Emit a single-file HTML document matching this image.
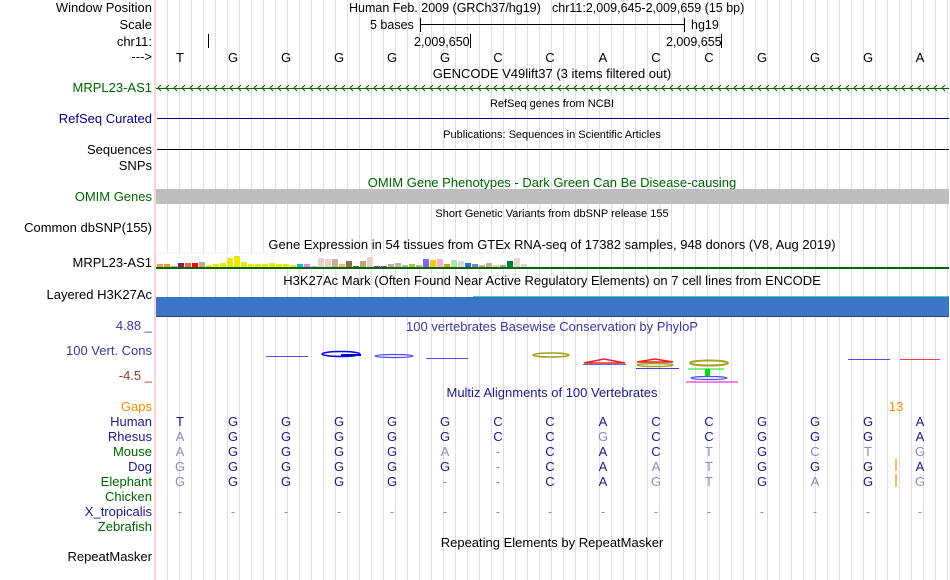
<!DOCTYPE html>
<html><head><meta charset="utf-8"><style>
html,body{margin:0;padding:0;background:#fff;}
svg{display:block;font-family:"Liberation Sans",Arial,sans-serif;}
</style></head><body>
<svg width="950" height="580" viewBox="0 0 950 580" xmlns="http://www.w3.org/2000/svg">
<defs>
<pattern id="chev" x="156" y="84" width="8" height="8" patternUnits="userSpaceOnUse">
<polyline points="5,1 2,4 5,7" fill="none" stroke="#006400" stroke-width="1"/>
</pattern>
</defs>
<rect width="950" height="580" fill="#fff"/>
<g stroke="#dcdcf6" stroke-width="1">
<path d="M167.5 0V580M179.5 0V580M191.5 0V580M203.5 0V580M215.5 0V580M227.5 0V580M239.5 0V580M251.5 0V580M263.5 0V580M275.5 0V580M287.5 0V580M299.5 0V580M311.5 0V580M323.5 0V580M335.5 0V580M347.5 0V580M359.5 0V580M371.5 0V580M383.5 0V580M395.5 0V580M407.5 0V580M419.5 0V580M431.5 0V580M443.5 0V580M455.5 0V580M467.5 0V580M479.5 0V580M491.5 0V580M503.5 0V580M515.5 0V580M527.5 0V580M539.5 0V580M551.5 0V580M563.5 0V580M575.5 0V580M587.5 0V580M599.5 0V580M611.5 0V580M623.5 0V580M635.5 0V580M647.5 0V580M659.5 0V580M671.5 0V580M683.5 0V580M695.5 0V580M707.5 0V580M719.5 0V580M731.5 0V580M743.5 0V580M755.5 0V580M767.5 0V580M779.5 0V580M791.5 0V580M803.5 0V580M815.5 0V580M827.5 0V580M839.5 0V580M851.5 0V580M863.5 0V580M875.5 0V580M887.5 0V580M899.5 0V580M911.5 0V580M923.5 0V580M935.5 0V580M947.5 0V580"/>
</g>
<line x1="155" y1="0" x2="155" y2="580" stroke="#ffaaaa" stroke-width="1"/>

<g font-size="13" text-anchor="end">
<text x="152" y="12" fill="#000">Window Position</text>
<text x="152" y="29" fill="#000">Scale</text>
<text x="152" y="46" fill="#000">chr11:</text>
<text x="152" y="61" fill="#000">---&gt;</text>
<text x="152" y="92" fill="#006400">MRPL23-AS1</text>
<text x="152" y="123" fill="#000080">RefSeq Curated</text>
<text x="152" y="154" fill="#000">Sequences</text>
<text x="152" y="170" fill="#000">SNPs</text>
<text x="152" y="201" fill="#006400">OMIM Genes</text>
<text x="152" y="232" fill="#000">Common dbSNP(155)</text>
<text x="152" y="267" fill="#000">MRPL23-AS1</text>
<text x="152" y="299" fill="#000">Layered H3K27Ac</text>
<text x="152" y="330" fill="#3a3a98">4.88 _</text>
<text x="152" y="355" fill="#3a3a98">100 Vert. Cons</text>
<text x="152" y="380" fill="#8b3a2a">-4.5 _</text>
<text x="152" y="411" fill="#f08c00">Gaps</text>
<text x="152" y="426" fill="#1a1a80">Human</text>
<text x="152" y="441" fill="#1a1a80">Rhesus</text>
<text x="152" y="456" fill="#006400">Mouse</text>
<text x="152" y="471" fill="#1a1a80">Dog</text>
<text x="152" y="486" fill="#006400">Elephant</text>
<text x="152" y="501" fill="#006400">Chicken</text>
<text x="152" y="516" fill="#1a1a80">X_tropicalis</text>
<text x="152" y="531" fill="#006400">Zebrafish</text>
<text x="152" y="561" fill="#000">RepeatMasker</text>
</g>

<g font-size="12.5" fill="#000">
<text x="349" y="12">Human Feb. 2009 (GRCh37/hg19)</text>
<text x="552" y="12">chr11:2,009,645-2,009,659 (15 bp)</text>
<text x="370" y="29">5 bases</text>
<text x="691" y="29">hg19</text>
<text x="414" y="46">2,009,650</text>
<text x="666" y="46">2,009,655</text>
</g>
<g stroke="#000" stroke-width="1">
<line x1="420.5" y1="18" x2="420.5" y2="32"/>
<line x1="420" y1="24.5" x2="684" y2="24.5"/>
<line x1="684.5" y1="18" x2="684.5" y2="32"/>
<line x1="208.5" y1="34" x2="208.5" y2="48"/>
<line x1="470.5" y1="34" x2="470.5" y2="48"/>
<line x1="721.5" y1="34" x2="721.5" y2="48"/>
</g>
<g font-size="13" fill="#000" text-anchor="middle">
<text x="180" y="62">T</text><text x="233" y="62">G</text><text x="286" y="62">G</text><text x="339" y="62">G</text><text x="392" y="62">G</text><text x="445" y="62">G</text><text x="498" y="62">C</text><text x="550" y="62">C</text><text x="603" y="62">A</text><text x="656" y="62">C</text><text x="709" y="62">C</text><text x="762" y="62">G</text><text x="815" y="62">G</text><text x="868" y="62">G</text><text x="920" y="62">A</text>
</g>

<g font-size="13" text-anchor="middle">
<text x="552" y="78" fill="#000">GENCODE V49lift37 (3 items filtered out)</text>
<text x="552" y="187" fill="#006400">OMIM Gene Phenotypes - Dark Green Can Be Disease-causing</text>
<text x="552" y="249" fill="#000">Gene Expression in 54 tissues from GTEx RNA-seq of 17382 samples, 948 donors (V8, Aug 2019)</text>
<text x="552" y="285" fill="#000">H3K27Ac Mark (Often Found Near Active Regulatory Elements) on 7 cell lines from ENCODE</text>
<text x="552" y="331" fill="#3a3a98">100 vertebrates Basewise Conservation by PhyloP</text>
<text x="552" y="397" fill="#1a1a80">Multiz Alignments of 100 Vertebrates</text>
<text x="552" y="547" fill="#000">Repeating Elements by RepeatMasker</text>
</g>
<g font-size="11" text-anchor="middle" fill="#000">
<text x="552" y="107">RefSeq genes from NCBI</text>
<text x="552" y="138">Publications: Sequences in Scientific Articles</text>
<text x="552" y="217">Short Genetic Variants from dbSNP release 155</text>
</g>

<line x1="156" y1="88.5" x2="949" y2="88.5" stroke="#006400"/>
<rect x="156" y="84" width="793" height="9" fill="url(#chev)"/>
<line x1="157" y1="118.5" x2="949" y2="118.5" stroke="#000080"/>
<line x1="157" y1="149.5" x2="949" y2="149.5" stroke="#000"/>
<rect x="156" y="189" width="793" height="15" fill="#bebebe"/>

<rect x="156" y="253" width="379" height="14" fill="#fff" stroke="#e4e4e4" stroke-width="0.5"/>
<g>
<rect x="157" y="264" width="6" height="3" fill="#f5a050"/>
<rect x="164" y="264" width="6" height="3" fill="#f09a20"/>
<rect x="171" y="266" width="6" height="1" fill="#88bb88"/>
<rect x="178" y="263" width="6" height="4" fill="#8b1a5a"/>
<rect x="185" y="263" width="6" height="4" fill="#f06040"/>
<rect x="192" y="263" width="6" height="4" fill="#ff0000"/>
<rect x="199" y="262" width="6" height="5" fill="#c8a890"/>
<rect x="206" y="265" width="6" height="2" fill="#e8e800"/>
<rect x="213" y="264" width="6" height="3" fill="#e8e800"/>
<rect x="220" y="263" width="6" height="4" fill="#e8e800"/>
<rect x="227" y="258" width="6" height="9" fill="#e8e800"/>
<rect x="234" y="256" width="6" height="11" fill="#e8e800"/>
<rect x="241" y="262" width="6" height="5" fill="#e8e800"/>
<rect x="248" y="264" width="6" height="3" fill="#e8e800"/>
<rect x="255" y="264" width="6" height="3" fill="#e8e800"/>
<rect x="262" y="264" width="6" height="3" fill="#e8e800"/>
<rect x="269" y="263" width="6" height="4" fill="#e8e800"/>
<rect x="276" y="264" width="6" height="3" fill="#e8e800"/>
<rect x="283" y="264" width="6" height="3" fill="#e8e800"/>
<rect x="290" y="265" width="6" height="2" fill="#e8e800"/>
<rect x="297" y="264" width="6" height="3" fill="#00c8c8"/>
<rect x="304" y="264" width="6" height="3" fill="#ee82ee"/>
<rect x="311" y="266" width="6" height="1" fill="#a0c0d0"/>
<rect x="318" y="258" width="6" height="9" fill="#ecd0cc"/>
<rect x="325" y="259" width="6" height="8" fill="#ecd0cc"/>
<rect x="332" y="259" width="6" height="8" fill="#c8b098"/>
<rect x="339" y="264" width="6" height="3" fill="#f8b878"/>
<rect x="346" y="261" width="6" height="6" fill="#8b7050"/>
<rect x="353" y="266" width="6" height="1" fill="#6b5a40"/>
<rect x="360" y="261" width="6" height="6" fill="#c8a070"/>
<rect x="367" y="257" width="6" height="10" fill="#ecd0cc"/>
<rect x="374" y="266" width="6" height="1" fill="#9933cc"/>
<rect x="381" y="266" width="6" height="1" fill="#9933cc"/>
<rect x="388" y="264" width="6" height="3" fill="#c8b098"/>
<rect x="395" y="263" width="6" height="4" fill="#c8b098"/>
<rect x="402" y="265" width="6" height="2" fill="#c8b098"/>
<rect x="409" y="264" width="6" height="3" fill="#99cc33"/>
<rect x="416" y="265" width="6" height="2" fill="#c8b098"/>
<rect x="423" y="259" width="6" height="8" fill="#7b68ee"/>
<rect x="430" y="260" width="6" height="7" fill="#f5c800"/>
<rect x="437" y="259" width="6" height="8" fill="#ffb0c0"/>
<rect x="444" y="264" width="6" height="3" fill="#d4a017"/>
<rect x="451" y="260" width="6" height="7" fill="#aae8aa"/>
<rect x="458" y="261" width="6" height="6" fill="#d8d8d8"/>
<rect x="465" y="263" width="6" height="4" fill="#3366dd"/>
<rect x="472" y="264" width="6" height="3" fill="#7788cc"/>
<rect x="479" y="265" width="6" height="2" fill="#c8b098"/>
<rect x="486" y="263" width="6" height="4" fill="#c8b098"/>
<rect x="493" y="265" width="6" height="2" fill="#f8c8a0"/>
<rect x="500" y="265" width="6" height="2" fill="#a0a0a0"/>
<rect x="507" y="261" width="6" height="6" fill="#008040"/>
<rect x="514" y="258" width="6" height="9" fill="#ecd0cc"/>
<rect x="521" y="264" width="6" height="3" fill="#ecd0cc"/>
</g>
<rect x="156" y="267" width="793" height="2" fill="#006400"/>

<line x1="473" y1="296.5" x2="949" y2="296.5" stroke="#40d0c0"/>
<rect x="156" y="297" width="793" height="19" fill="#3c74c8"/>
<line x1="156" y1="316.5" x2="949" y2="316.5" stroke="#2a4a6a"/>

<g>
<rect x="266" y="356" width="42" height="1" fill="#5050e8"/>
<ellipse cx="341" cy="354" rx="19" ry="2.5" fill="none" stroke="#0000ee" stroke-width="1.5"/>
<rect x="341" y="354" width="20" height="2" fill="#0000ee"/>
<ellipse cx="394" cy="356" rx="19" ry="1.5" fill="none" stroke="#5050e8" stroke-width="1.2"/>
<rect x="426" y="358" width="42" height="1" fill="#5050e8"/>
<ellipse cx="551" cy="355" rx="18" ry="2" fill="none" stroke="#a8a020" stroke-width="1.5"/>
<polygon points="584,363 604,359 625,363" fill="none" stroke="#ee2020" stroke-width="1.5"/>
<line x1="583" y1="364.5" x2="626" y2="364.5" stroke="#6060ff"/>
<polygon points="637,362 655,359 673,362" fill="none" stroke="#ee2020" stroke-width="1.5"/>
<ellipse cx="655" cy="365" rx="18" ry="1.5" fill="none" stroke="#a8a020" stroke-width="1.5"/>
<line x1="636" y1="368.5" x2="679" y2="368.5" stroke="#4040e0"/>
<ellipse cx="709" cy="363" rx="19" ry="2.5" fill="none" stroke="#a8a020" stroke-width="2"/>
<line x1="688" y1="369" x2="724" y2="369" stroke="#00ee00" stroke-width="1"/>
<rect x="705" y="369" width="5" height="7" fill="#00dd00"/>
<ellipse cx="709" cy="378" rx="18" ry="1.5" fill="none" stroke="#5050ee" stroke-width="1.2"/>
<line x1="686" y1="382" x2="738" y2="382" stroke="#ee00cc" stroke-width="1"/>
<rect x="848" y="359" width="42" height="1" fill="#5050e8"/>
<rect x="900" y="359" width="40" height="1" fill="#ee4040"/>
</g>

<text x="896" y="411" font-size="13" fill="#f08c00" text-anchor="middle">13</text>
<g font-size="13" text-anchor="middle">
<g fill="#1a1a80">
<text x="180" y="426">T</text><text x="233" y="426">G</text><text x="286" y="426">G</text><text x="339" y="426">G</text><text x="392" y="426">G</text><text x="445" y="426">G</text><text x="498" y="426">C</text><text x="550" y="426">C</text><text x="603" y="426">A</text><text x="656" y="426">C</text><text x="709" y="426">C</text><text x="762" y="426">G</text><text x="815" y="426">G</text><text x="868" y="426">G</text><text x="920" y="426">A</text>
<text x="233" y="441">G</text><text x="286" y="441">G</text><text x="339" y="441">G</text><text x="392" y="441">G</text><text x="445" y="441">G</text><text x="498" y="441">C</text><text x="550" y="441">C</text><text x="656" y="441">C</text><text x="709" y="441">C</text><text x="762" y="441">G</text><text x="815" y="441">G</text><text x="868" y="441">G</text><text x="920" y="441">A</text>
<text x="233" y="456">G</text><text x="286" y="456">G</text><text x="339" y="456">G</text><text x="392" y="456">G</text><text x="550" y="456">C</text><text x="603" y="456">A</text><text x="656" y="456">C</text><text x="762" y="456">G</text>
<text x="233" y="471">G</text><text x="286" y="471">G</text><text x="339" y="471">G</text><text x="392" y="471">G</text><text x="445" y="471">G</text><text x="550" y="471">C</text><text x="603" y="471">A</text><text x="762" y="471">G</text><text x="815" y="471">G</text><text x="868" y="471">G</text><text x="920" y="471">A</text>
<text x="233" y="486">G</text><text x="286" y="486">G</text><text x="339" y="486">G</text><text x="392" y="486">G</text><text x="550" y="486">C</text><text x="603" y="486">A</text><text x="762" y="486">G</text><text x="868" y="486">G</text>
</g>
<g fill="#8c8cb8">
<text x="180" y="441">A</text><text x="603" y="441">G</text>
<text x="180" y="456">A</text><text x="445" y="456">A</text><text x="498" y="456">-</text><text x="709" y="456">T</text><text x="815" y="456">C</text><text x="868" y="456">T</text><text x="920" y="456">G</text>
<text x="180" y="471">G</text><text x="498" y="471">-</text><text x="656" y="471">A</text><text x="709" y="471">T</text>
<text x="180" y="486">G</text><text x="445" y="486">-</text><text x="498" y="486">-</text><text x="656" y="486">G</text><text x="709" y="486">T</text><text x="815" y="486">A</text><text x="920" y="486">G</text>
<text x="180" y="516">-</text><text x="233" y="516">-</text><text x="286" y="516">-</text><text x="339" y="516">-</text><text x="392" y="516">-</text><text x="445" y="516">-</text><text x="498" y="516">-</text><text x="550" y="516">-</text><text x="603" y="516">-</text><text x="656" y="516">-</text><text x="709" y="516">-</text><text x="762" y="516">-</text><text x="815" y="516">-</text><text x="868" y="516">-</text><text x="920" y="516">-</text>
</g>
</g>
<line x1="896" y1="459" x2="896" y2="471" stroke="#f08c00" stroke-width="1.2"/>
<line x1="896" y1="474" x2="896" y2="487" stroke="#f08c00" stroke-width="1.2"/>
</svg>
</body></html>
